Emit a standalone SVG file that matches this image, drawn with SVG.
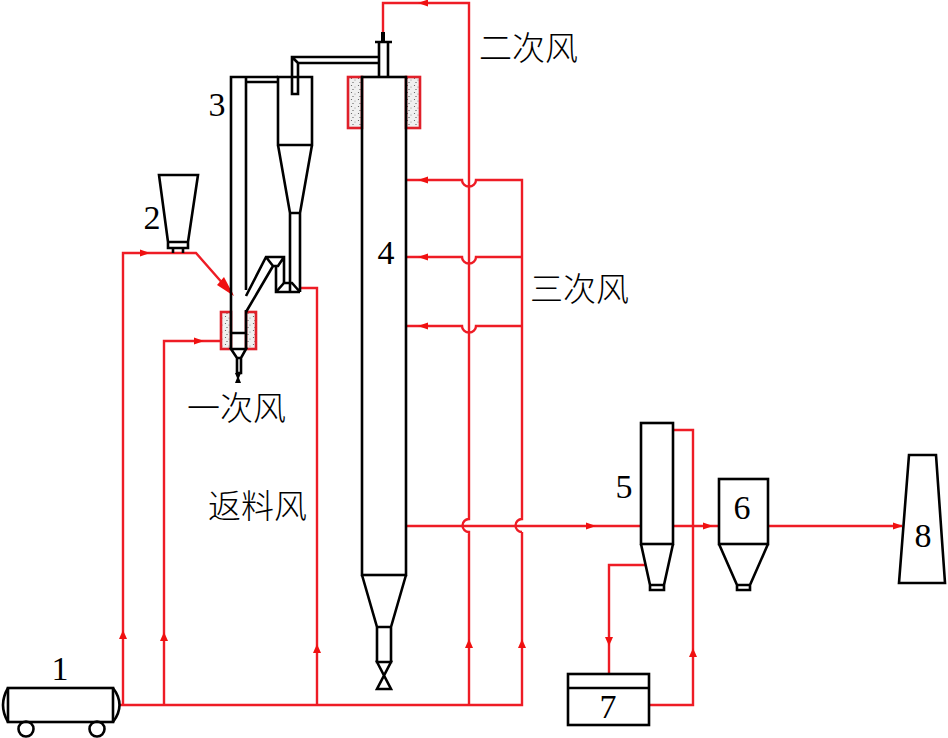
<svg xmlns="http://www.w3.org/2000/svg" width="948" height="738" viewBox="0 0 948 738">
<style>
.k{fill:none;stroke:#000;stroke-width:2.600;stroke-linejoin:miter}
.r{fill:none;stroke:#ee1c25;stroke-width:2.400}
.ins{fill:url(#st);stroke:#e0202a;stroke-width:2.600}
.a{fill:#f01010;stroke:none}
.n{font-family:"Liberation Serif",serif;font-size:34px;fill:#000;text-anchor:middle}
.c{font-family:"Noto Sans CJK SC","Liberation Serif",sans-serif;font-size:33px;font-weight:300;fill:#000}
</style>
<defs>
<pattern id="st" width="7" height="7" patternUnits="userSpaceOnUse">
<rect width="7" height="7" fill="#f0f0f0"/>
<circle cx="1.500" cy="1.500" r=".6" fill="#555"/><circle cx="5" cy="3" r=".5" fill="#777"/><circle cx="3" cy="5.500" r=".6" fill="#444"/>
</pattern>
<path id="au" class="a" d="M0-6L4 3H-4Z"/>
<path id="ar" class="a" d="M6 0L-4-3.500V3.500Z"/>
<path id="al" class="a" d="M-6 0L4-3.500V3.500Z"/>
<path id="ad" class="a" d="M0 6L-4-3H4Z"/>
</defs>
<g id="connectors">
<path class="r" d="M120 705H522V532"/>
<path class="r" d="M123 705V253H196L232 294"/>
<path class="r" d="M164 705V341H221"/>
<path class="r" d="M317 705V288H300"/>
<path class="r" d="M469 705V532A6.500 6.500 0 0 1 469 519V3H383V33"/>
<path class="r" d="M522 532A6.500 6.500 0 0 1 522 519V180H476A7 6.500 0 0 1 462 180H406"/>
<path class="r" d="M522 257H476A7 6.500 0 0 1 462 257H406"/>
<path class="r" d="M522 326H476A7 6.500 0 0 1 462 326H406"/>
<path class="r" d="M406 526H641"/>
<path class="r" d="M673 526H719"/>
<path class="r" d="M768 526H902"/>
<path class="r" d="M673 430H693V705H649"/>
<path class="r" d="M646 565H609V674"/>
<use href="#au" x="123" y="636"/><use href="#au" x="164" y="638"/><use href="#au" x="317" y="650"/>
<use href="#au" x="469" y="645"/><use href="#au" x="522" y="645"/><use href="#au" x="693" y="654"/>
<use href="#ar" x="144" y="253"/><use href="#ar" x="198" y="341"/><use href="#ar" x="590" y="526"/><use href="#ar" x="707" y="526"/><use href="#ar" x="897" y="526"/>
<use href="#al" x="424" y="3"/><use href="#al" x="424" y="180"/><use href="#al" x="424" y="257"/><use href="#al" x="424" y="326"/>
<use href="#ad" x="609" y="640"/>
<path class="a" d="M234 296L217 285L224 277Z"/>
</g>
<g id="node-1">
<rect class="k" x="8" y="688" width="105" height="34"/>
<path class="k" d="M8 688Q-2 705 8 722M113 688Q126 705 113 722"/>
<circle class="k" cx="26" cy="729" r="7.500"/><circle class="k" cx="97" cy="729" r="7.500"/>
<text class="n" x="60" y="680">1</text>
</g>
<g id="node-2">
<path class="k" d="M159 175H198L188 242H168ZM168 242V248H188V242M173 248V253M183 248V253"/>
<text class="n" x="152" y="229">2</text>
</g>
<g id="node-3">
<rect class="ins" x="221" y="312" width="10" height="37"/>
<rect class="ins" x="246" y="312" width="10" height="37"/>
<path class="k" d="M231 349V77H278M246 77V290M246 310V349M246 82H278M231 333H246M231 349H246L241 358H237ZM237 358V373H241V358"/>
<path class="k" d="M246 296L266 257H284V283M246 312L273 266M266 257L273 266H278L284 257M276 266V292H300"/>
<path d="M235 373L241 373L239 378L241 383H235L237 378Z" fill="#000"/>
<path class="k" d="M278 77H312V145H278ZM278 145L290 213H300L312 145M290 213V292M300 213V292M276 292L284 283H292L300 292"/>
<path class="k" d="M292 77V57H379M298 77V63H379M292 57L298 63M292 77V94H298V77"/>
<text class="n" x="217" y="116">3</text>
</g>
<g id="node-4">
<rect class="ins" x="348" y="77" width="14" height="51"/>
<rect class="ins" x="406" y="77" width="14" height="51"/>
<rect class="k" x="362" y="77" width="44" height="498"/>
<path class="k" d="M362 575L377 627H391L406 575M377 627V662H391V627M377 662L391 689H377L391 662Z"/>
<path class="k" d="M379 77V43M388 77V43M375 42H392"/>
<rect x="381" y="32" width="4" height="11" fill="#000"/>
<text class="n" x="386" y="264">4</text>
</g>
<g id="node-5">
<rect class="k" x="641" y="423" width="32" height="121"/>
<path class="k" d="M641 544L650 585H664L673 544M650 585V590H664V585"/>
<text class="n" x="624" y="498">5</text>
</g>
<g id="node-6">
<rect class="k" x="719" y="479" width="49" height="65"/>
<path class="k" d="M719 544L737 585H750L768 544M737 585V590H750V585"/>
<text class="n" x="742" y="519">6</text>
</g>
<g id="node-7">
<rect class="k" x="568" y="674" width="81" height="51"/>
<path class="k" d="M568 688H649"/>
<text class="n" x="608" y="718">7</text>
</g>
<g id="node-8">
<path class="k" d="M909 455H936L945 583H899Z"/>
<text class="n" x="923" y="547">8</text>
</g>
<g id="labels">
<text class="c" x="479" y="60" textLength="99">二次风</text>
<text class="c" x="530" y="301" textLength="99">三次风</text>
<text class="c" x="187" y="420" textLength="99">一次风</text>
<text class="c" x="208" y="518" textLength="99">返料风</text>
</g>
</svg>
